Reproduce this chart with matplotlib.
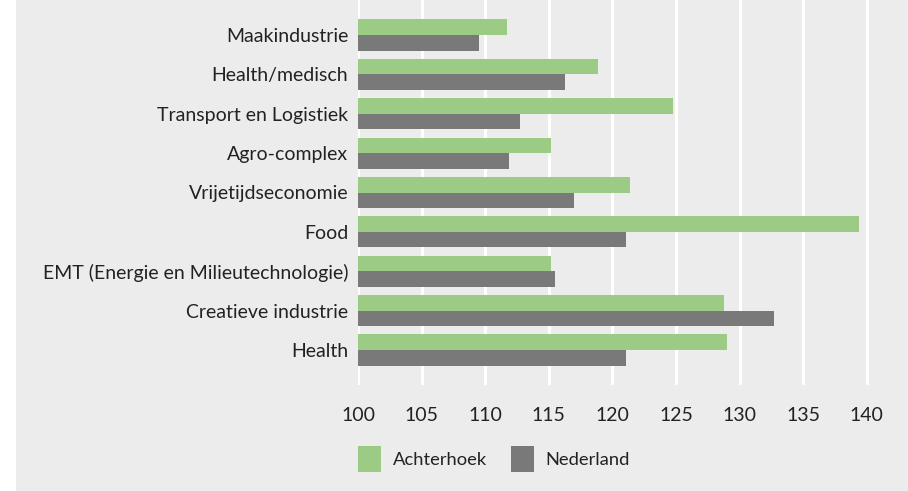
import matplotlib
matplotlib.use("Agg")
import matplotlib.pyplot as plt
from matplotlib import font_manager
from matplotlib.patches import Rectangle, Patch

categories = ["Maakindustrie", "Health/medisch", "Transport en Logistiek", "Agro-complex",
              "Vrijetijdseconomie", "Food", "EMT (Energie en Milieutechnologie)",
              "Creatieve industrie", "Health"]
achterhoek = [111.7, 118.9, 124.8, 115.2, 121.4, 139.4, 115.2, 128.8, 129.0]
nederland = [109.5, 116.3, 112.7, 111.9, 117.0, 121.1, 115.5, 132.7, 121.1]
xticks = [100, 105, 110, 115, 120, 125, 130, 135, 140]

avail = {f.name for f in font_manager.fontManager.ttflist}
fam = [f for f in ["Lato", "DejaVu Sans"] if f in avail]
plt.rcParams['font.family'] = fam

W, H = 908, 491
fig = plt.figure(figsize=(W/100, H/100), dpi=100)
fig.patch.set_facecolor("white")
bg = Rectangle((16/W, 0), 1 - 16/W, 1, transform=fig.transFigure,
               facecolor="#ececec", edgecolor="none", zorder=-10)
fig.patches.append(bg)

left, right = 358/W, 898/W
top, bottom = 1.0, 1 - 385/H
ax = fig.add_axes([left, bottom, right-left, top-bottom])
ax.set_facecolor("none")

green = "#9ccb85"
grey = "#797979"
bh = 0.395
ys = list(range(len(categories)))
ax.barh([y - bh/2 for y in ys], [v - 100 for v in achterhoek], left=100, height=bh,
        color=green, zorder=3)
ax.barh([y + bh/2 for y in ys], [v - 100 for v in nederland], left=100, height=bh,
        color=grey, zorder=3)

ax.set_xlim(100, 142.45)
ax.set_ylim(8.89, -0.89)
ax.set_xticks(xticks)
ax.set_xticklabels([str(t) for t in xticks], fontsize=14, color="#222222")
ax.set_yticks(ys)
ax.set_yticklabels(categories, fontsize=14, color="#222222")
ax.tick_params(axis='x', length=0, pad=16)
ax.tick_params(axis='y', length=0, pad=7)
ax.grid(axis='x', color="white", linewidth=2.2, zorder=1)
for s in ax.spines.values():
    s.set_visible(False)

handles = [Patch(facecolor=green, label="Achterhoek"), Patch(facecolor=grey, label="Nederland")]
fig.legend(handles=handles, loc="center left", bbox_to_anchor=(358/W, 1 - 459/H),
           borderaxespad=0, borderpad=0,
           ncol=2, frameon=False, fontsize=13.2, handlelength=1.25, handleheight=1.75,
           handletextpad=0.65, columnspacing=1.3, labelcolor="#222222")

fig.savefig("out.png", dpi=100)
